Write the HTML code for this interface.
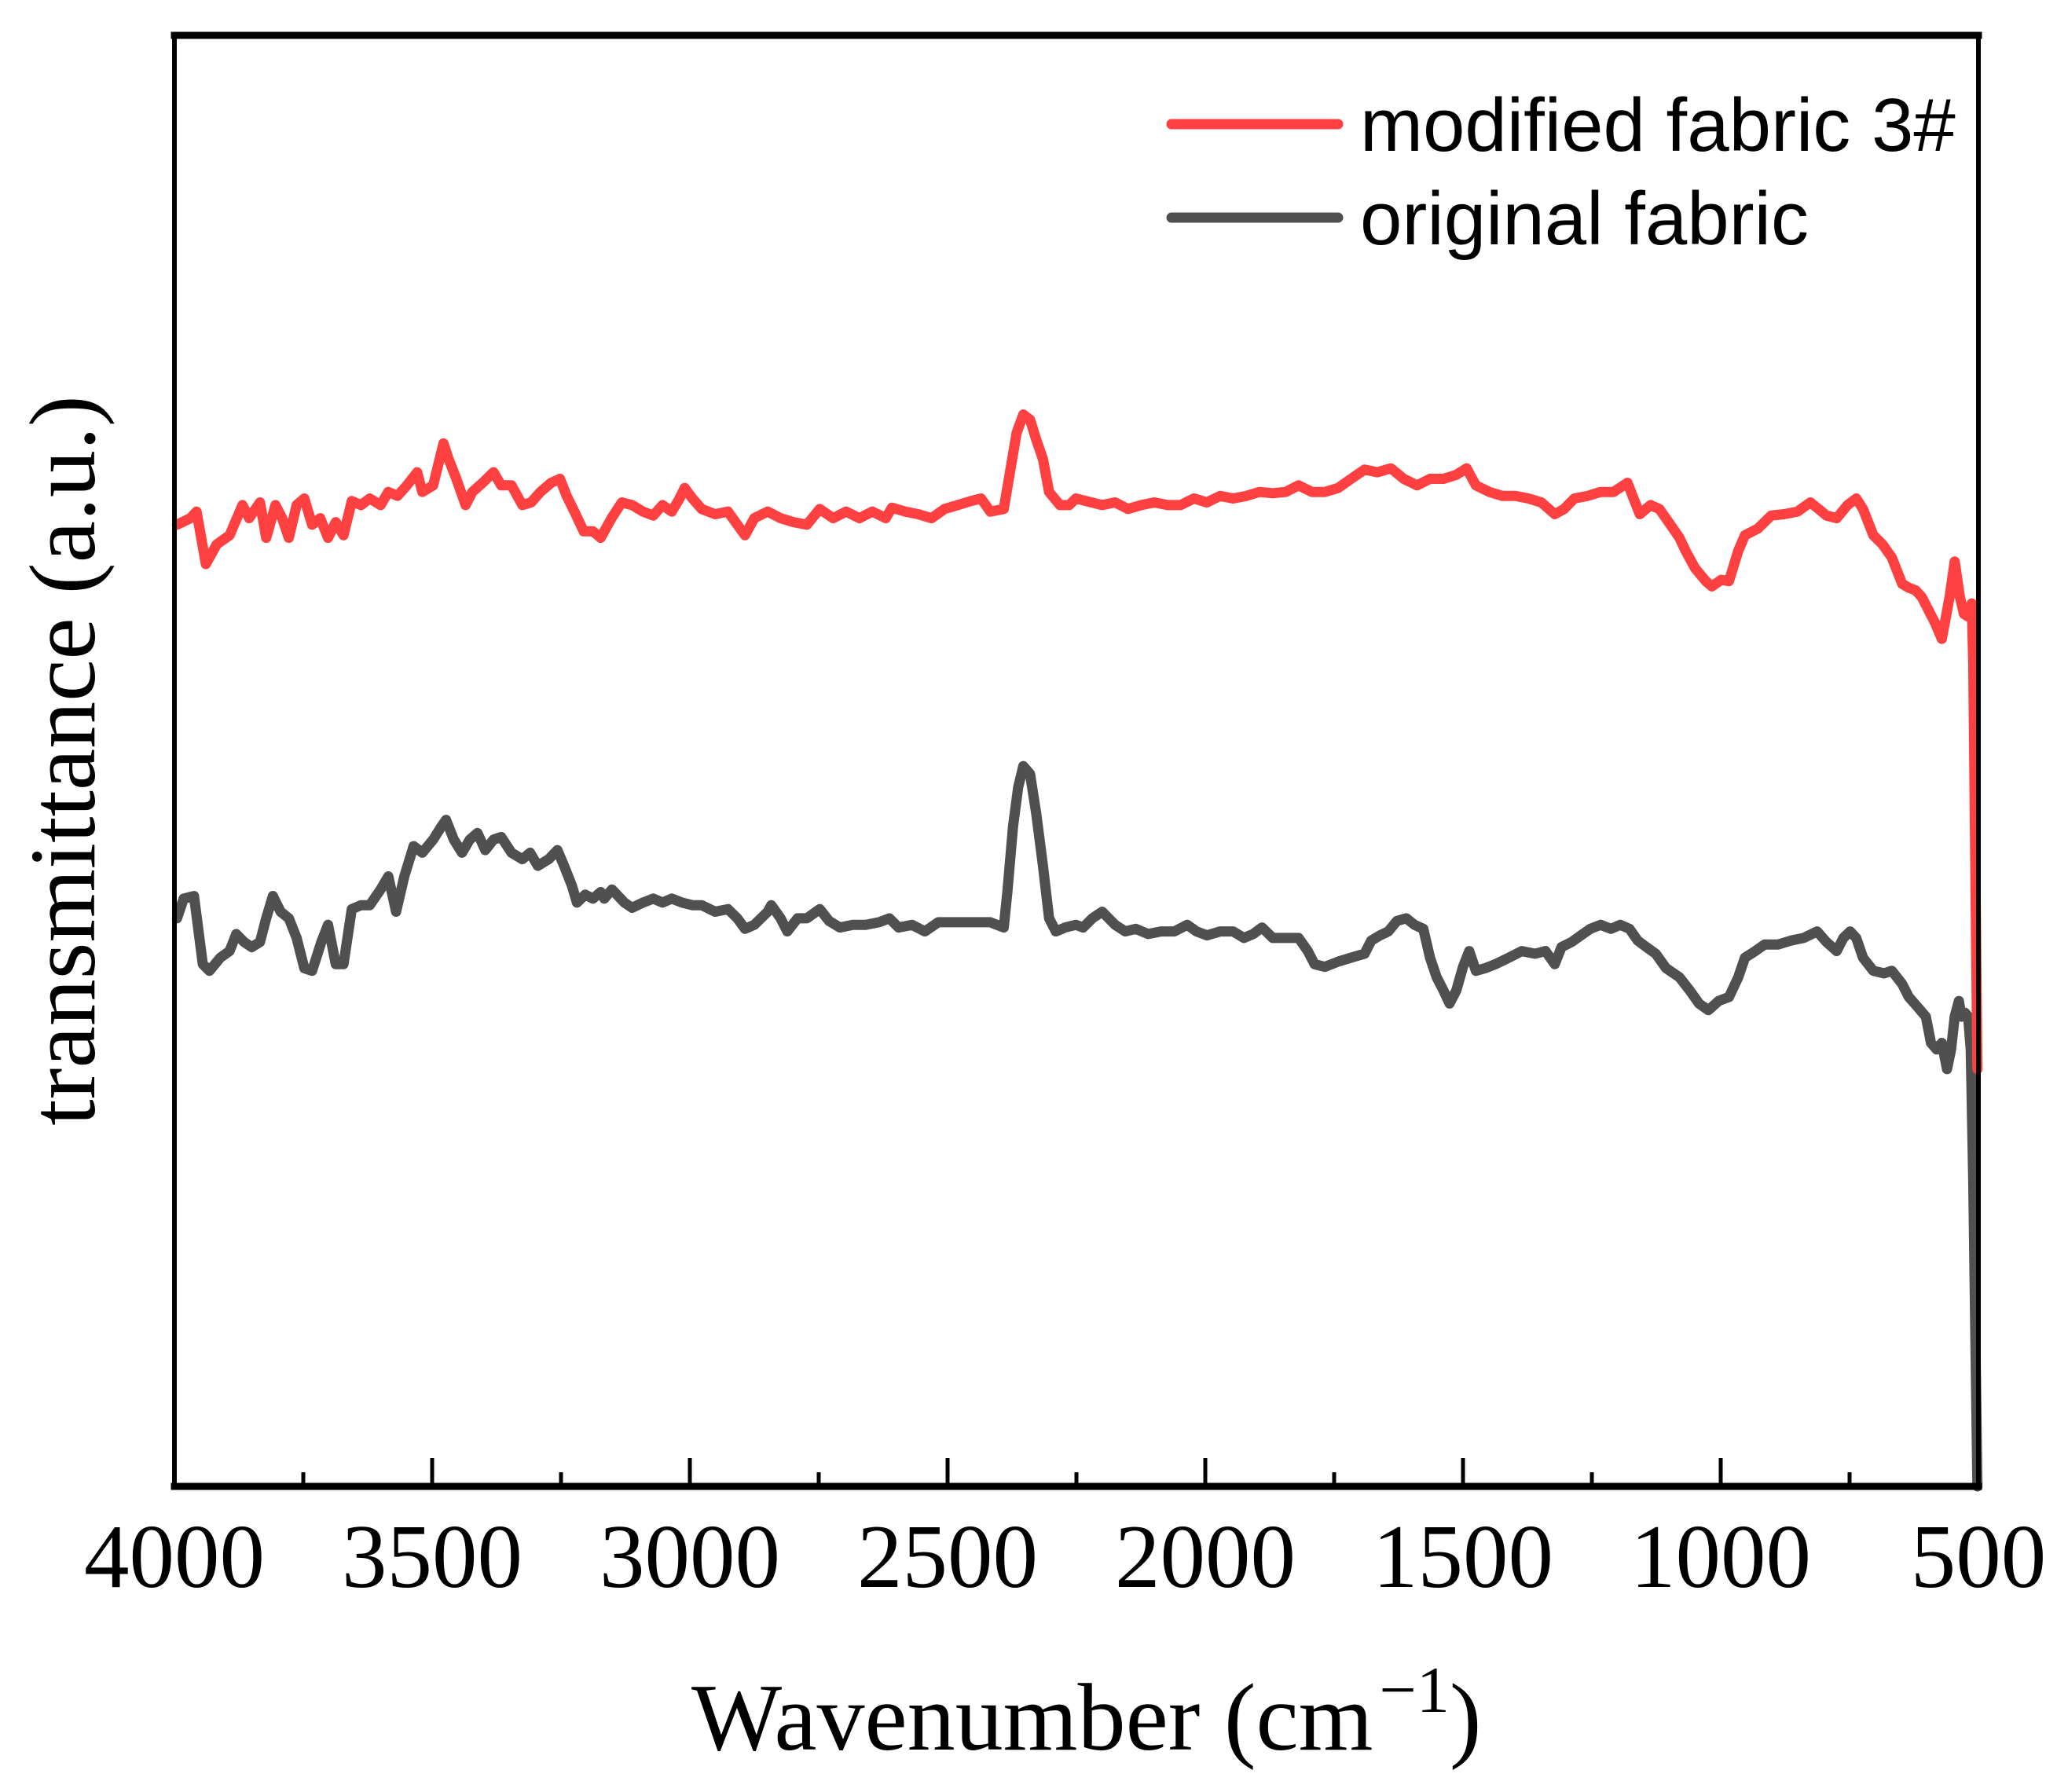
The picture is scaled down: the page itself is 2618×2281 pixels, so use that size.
<!DOCTYPE html>
<html><head><meta charset="utf-8"><style>
html,body{margin:0;padding:0;background:#fff;}
svg{display:block;}
</style></head><body>
<svg id="chart" width="2618" height="2281" viewBox="0 0 2618 2281" xmlns="http://www.w3.org/2000/svg">
<rect x="0" y="0" width="2618" height="2281" fill="#fff"/>
<g id="series"></g>
<g id="frame"></g>
<g id="xticks"></g>
<text transform="translate(120,968) rotate(-90)" text-anchor="middle" font-family="Liberation Serif, serif" font-size="120">transmittance (a.u.)</text>
<text x="880" y="2227" font-family="Liberation Serif, serif" font-size="122">Wavenumber (cm<tspan dx="8" dy="-48" font-size="84">−1</tspan><tspan dy="48">)</tspan></text>
<g>
<line x1="1491" y1="158" x2="1703" y2="158" stroke="#ff4040" stroke-width="13" stroke-linecap="round"/>
<text x="1731" y="192" font-family="Liberation Sans, sans-serif" font-size="96">modified fabric 3#</text>
<line x1="1491" y1="277" x2="1703" y2="277" stroke="#505050" stroke-width="13" stroke-linecap="round"/>
<text x="1731" y="311" font-family="Liberation Sans, sans-serif" font-size="96">original fabric</text>
</g>
</svg>
<script>
const redWn=[3995,3969,3957,3939,3918,3893,3868,3855,3834,3822,3804,3791,3778,3763,3748,3733,3717,3702,3687,3672,3656,3638,3621,3600,3585,3567,3549,3529,3519,3498,3478,3468,3453,3435,3422,3402,3381,3366,3346,3325,3308,3290,3269,3252,3239,3224,3206,3188,3173,3152,3132,3112,3091,3071,3053,3035,3020,3010,2995,2977,2951,2926,2908,2893,2875,2849,2824,2799,2773,2748,2722,2697,2671,2646,2620,2608,2582,2557,2531,2506,2480,2455,2435,2417,2391,2379,2366,2353,2340,2328,2315,2303,2282,2264,2251,2231,2200,2175,2150,2124,2099,2073,2048,2022,1997,1971,1946,1920,1895,1869,1844,1819,1793,1768,1742,1717,1691,1666,1640,1615,1589,1564,1538,1513,1493,1475,1449,1424,1398,1373,1348,1322,1304,1284,1258,1233,1208,1181,1169,1157,1136,1119,1101,1080,1068,1050,1029,1017,999,984,966,953,928,902,877,851,826,810,795,775,754,737,724,704,686,668,648,635,622,610,597,584,571,563,556,546,536,528,520,513,510,502];
const redT=[733,738,743,703,718,725,748,738,750,723,748,738,723,748,753,733,738,723,735,725,751,748,753,748,758,755,763,773,758,763,795,783,768,748,758,765,773,763,763,748,750,758,765,768,755,743,728,728,723,738,750,748,743,740,748,743,753,761,753,745,741,743,733,725,738,743,738,735,733,745,738,743,738,743,738,746,743,741,738,745,748,751,753,743,745,773,803,817,813,798,783,758,748,748,753,751,748,750,745,748,750,748,748,753,750,755,753,755,758,757,758,763,758,758,761,768,775,773,776,768,763,768,768,771,776,763,758,755,755,753,750,741,745,753,755,758,758,765,753,741,748,745,735,723,713,700,690,686,691,690,713,725,730,740,741,743,750,745,740,738,748,753,745,725,718,708,688,685,683,678,668,658,646,663,678,705,678,665,663,673,628,318];
const greyWn=[3995,3982,3962,3945,3932,3911,3893,3880,3865,3850,3834,3822,3809,3794,3778,3763,3748,3733,3715,3702,3687,3672,3656,3638,3621,3600,3585,3570,3554,3536,3519,3498,3482,3473,3458,3442,3427,3412,3397,3381,3366,3346,3325,3310,3295,3274,3257,3244,3229,3219,3203,3188,3173,3166,3151,3127,3112,3091,3071,3053,3035,3015,2995,2977,2951,2926,2908,2893,2875,2849,2842,2824,2811,2791,2773,2748,2730,2709,2684,2659,2633,2613,2595,2569,2544,2518,2493,2468,2442,2417,2391,2384,2373,2363,2353,2340,2328,2315,2303,2290,2272,2251,2237,2219,2200,2175,2155,2135,2111,2086,2060,2035,2017,1997,1971,1946,1925,1907,1890,1869,1844,1819,1801,1788,1768,1742,1717,1691,1678,1661,1645,1628,1610,1594,1577,1564,1551,1538,1526,1513,1500,1488,1475,1457,1437,1411,1386,1360,1340,1322,1309,1289,1271,1253,1233,1213,1195,1177,1161,1144,1126,1106,1080,1060,1042,1024,1004,984,966,953,933,915,889,864,839,813,795,775,762,749,737,724,704,683,668,648,635,617,602,592,581,571,561,553,546,538,533,526,520,515,510,502];
const greyT=[433,448,450,398,393,403,408,421,415,411,415,433,450,438,433,418,395,393,415,428,398,398,440,443,443,455,465,438,465,488,483,493,503,508,493,483,493,498,485,493,495,483,478,483,473,478,485,473,458,445,451,448,453,448,455,445,441,445,448,445,448,445,443,443,438,440,433,425,428,438,443,433,423,433,433,440,431,426,428,428,430,433,426,428,423,430,430,430,430,430,426,453,503,533,549,543,513,473,433,423,426,428,426,433,438,428,423,425,421,423,423,428,423,420,423,423,418,421,426,418,418,418,408,398,396,400,403,406,416,420,423,431,433,428,425,403,388,378,368,378,396,408,393,395,398,403,408,406,408,398,411,415,420,425,428,425,428,425,416,411,406,395,388,378,368,363,370,373,388,403,408,413,413,416,418,423,415,408,418,423,418,403,393,391,393,383,373,365,358,338,333,338,318,333,358,370,358,361,358,333,233,0];
const xTickVals=[4000,3500,3000,2500,2000,1500,1000,500];
const xTickLabels=["4000","3500","3000","2500","2000","1500","1000","500"];
const xMinorVals=[3750,3250,2750,2250,1750,1250,750];

const L=222,R=2518,T=45,B=1892;
const xS=w=>L+(4000-w)/3500*(R-L);
const yS=v=>B-v/1106*(B-T);
const NS='http://www.w3.org/2000/svg';
function mk(tag,attrs){const e=document.createElementNS(NS,tag);for(const k in attrs)e.setAttribute(k,attrs[k]);return e;}

const sg=document.getElementById('series');
function drawLine(wn,t,color,name){
  let d='';
  for(let i=0;i<wn.length;i++){d+=(i?'L':'M')+xS(wn[i]).toFixed(1)+','+yS(t[i]).toFixed(1);}
  const p=mk('path',{d:d,fill:'none',stroke:color,'stroke-width':13,'stroke-linejoin':'round','stroke-linecap':'round'});
  
  
  sg.appendChild(p);
}
drawLine(greyWn,greyT,'#505050','original-fabric-line');
drawLine(redWn,redT,'#ff4040','modified-fabric-line');

const fg=document.getElementById('frame');
const fr=[[L,T,R,T,9],[L,B,R,B,9],[L,T,L,B,6],[R,T,R,B,6]];
fr.forEach((a,i)=>{
  const l=mk('line',{x1:a[0],y1:a[1],x2:a[2],y2:a[3],stroke:'#000','stroke-width':a[4],'stroke-linecap':'square'});
  
  
  fg.appendChild(l);
});

const xg=document.getElementById('xticks');
xTickVals.forEach((v,i)=>{
  const x=xS(v);
  if(v<4000&&v>500){
    const t=mk('line',{x1:x,y1:B,x2:x,y2:B-36,stroke:'#000','stroke-width':5});
    
    
    xg.appendChild(t);
  }
  const tx=mk('text',{x:x,y:2020,'text-anchor':'middle','font-family':'Liberation Serif, serif','font-size':115});
  tx.textContent=xTickLabels[i];
  
  
  xg.appendChild(tx);
});
xMinorVals.forEach(v=>{
  const x=xS(v);
  const t=mk('line',{x1:x,y1:B,x2:x,y2:B-18,stroke:'#000','stroke-width':5});
  
  
  xg.appendChild(t);
});
</script>
</body></html>
